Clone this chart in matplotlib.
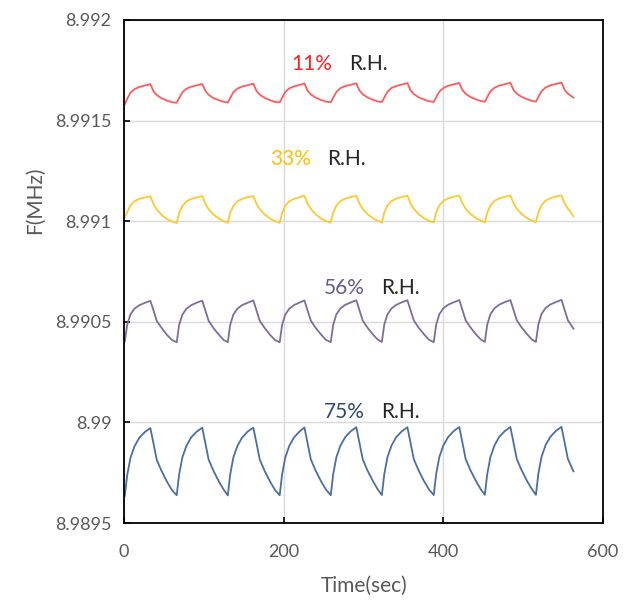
import numpy as np
import matplotlib
matplotlib.use('Agg')
import matplotlib.pyplot as plt

plt.rcParams['font.family'] = ['Lato', 'DejaVu Sans']

# sample times (sec): trough ... peak ... decay for each cycle
time_s = [1, 4, 8, 13, 19, 26, 33, 37, 41, 47, 54, 60,
          66, 69, 73, 78, 84, 91, 98, 102, 106, 112, 119, 125,
          130, 133, 137, 142, 148, 155, 162, 166, 170, 176, 183, 189,
          195, 198, 202, 207, 213, 220, 226, 230, 234, 240, 247, 253,
          259, 262, 266, 271, 277, 284, 291, 295, 299, 305, 312, 318,
          323, 326, 330, 335, 341, 348, 355, 359, 363, 369, 376, 382,
          388, 391, 395, 400, 406, 413, 420, 424, 428, 434, 441, 447,
          452, 455, 459, 464, 470, 477, 484, 488, 492, 498, 505, 511,
          516, 519, 523, 528, 534, 541, 548, 552, 556, 563]

# frequency, in Hz above 8.989 MHz
rh11_hz = [2582, 2608, 2638, 2656, 2667, 2674, 2681, 2645, 2627, 2611, 2599, 2591,
           2589, 2611, 2640, 2658, 2668, 2675, 2682, 2647, 2628, 2612, 2601, 2593,
           2590, 2612, 2641, 2659, 2669, 2676, 2683, 2647, 2629, 2613, 2601, 2593,
           2590, 2613, 2642, 2660, 2670, 2677, 2684, 2648, 2630, 2614, 2602, 2594,
           2591, 2613, 2642, 2661, 2671, 2678, 2685, 2649, 2631, 2615, 2603, 2595,
           2592, 2614, 2643, 2662, 2672, 2679, 2686, 2650, 2632, 2616, 2604, 2596,
           2593, 2615, 2644, 2662, 2673, 2680, 2687, 2651, 2633, 2617, 2605, 2597,
           2594, 2616, 2645, 2663, 2674, 2681, 2688, 2652, 2634, 2618, 2606, 2598,
           2594, 2617, 2646, 2664, 2675, 2682, 2689, 2652, 2634, 2614]

rh33_hz = [2020, 2045, 2078, 2099, 2111, 2118, 2124, 2084, 2058, 2031, 2010, 1999,
           1991, 2040, 2075, 2098, 2110, 2118, 2125, 2085, 2060, 2033, 2012, 2000,
           1992, 2041, 2076, 2099, 2111, 2119, 2125, 2086, 2060, 2034, 2013, 2001,
           1992, 2041, 2076, 2099, 2111, 2119, 2126, 2086, 2061, 2034, 2013, 2001,
           1993, 2042, 2077, 2100, 2112, 2120, 2126, 2087, 2061, 2035, 2014, 2002,
           1993, 2042, 2077, 2100, 2112, 2120, 2127, 2087, 2062, 2035, 2014, 2002,
           1994, 2043, 2078, 2101, 2113, 2121, 2127, 2088, 2062, 2036, 2015, 2003,
           1994, 2043, 2078, 2101, 2113, 2121, 2128, 2088, 2063, 2036, 2015, 2003,
           1995, 2044, 2079, 2102, 2114, 2122, 2128, 2089, 2063, 2024]

rh56_hz = [1403, 1485, 1537, 1565, 1582, 1594, 1604, 1556, 1504, 1470, 1434, 1410,
           1398, 1484, 1535, 1564, 1582, 1595, 1605, 1555, 1505, 1469, 1435, 1409,
           1399, 1485, 1536, 1565, 1583, 1595, 1606, 1556, 1505, 1470, 1435, 1410,
           1398, 1484, 1536, 1565, 1583, 1596, 1606, 1556, 1506, 1470, 1436, 1410,
           1399, 1485, 1537, 1566, 1584, 1596, 1607, 1557, 1506, 1471, 1436, 1411,
           1400, 1486, 1537, 1566, 1584, 1597, 1607, 1557, 1507, 1471, 1437, 1411,
           1399, 1485, 1538, 1567, 1585, 1597, 1608, 1558, 1507, 1472, 1437, 1412,
           1400, 1486, 1538, 1567, 1585, 1598, 1608, 1558, 1508, 1472, 1438, 1412,
           1400, 1486, 1539, 1568, 1586, 1598, 1609, 1559, 1508, 1466]

rh75_hz = [636, 738, 823, 880, 923, 952, 972, 894, 814, 759, 704, 664,
           638, 740, 825, 882, 925, 954, 974, 895, 815, 760, 705, 665,
           637, 741, 826, 883, 925, 955, 974, 896, 816, 760, 706, 665,
           638, 741, 826, 883, 926, 955, 975, 896, 816, 761, 706, 666,
           638, 742, 827, 884, 926, 956, 976, 897, 817, 761, 707, 666,
           639, 742, 827, 884, 927, 956, 976, 897, 817, 762, 707, 667,
           639, 743, 828, 885, 927, 957, 977, 898, 818, 762, 708, 667,
           640, 743, 828, 885, 928, 957, 977, 898, 818, 763, 708, 668,
           640, 744, 829, 886, 928, 958, 978, 899, 819, 757]

base_mhz = 8.989
y_ticks = [8.9895, 8.99, 8.9905, 8.991, 8.9915, 8.992]
y_labels = ['8.9895', '8.99', '8.9905', '8.991', '8.9915', '8.992']
x_ticks = [0, 200, 400, 600]

# data, colour, label, label colour, label y (MHz), label x (sec)
series = [
    (rh11_hz, '#FF5B5B', '11%', '#FF2020', 8.99178, 210),
    (rh33_hz, '#FFC82E', '33%', '#FFC000', 8.99131, 183),
    (rh56_hz, '#7E6C9C', '56%', '#6A5A8C', 8.99067, 250),
    (rh75_hz, '#4A6FA0', '75%', '#2E4A72', 8.99005, 250),
]

fig = plt.figure(figsize=(6.27, 6.05), dpi=100)
ax = fig.add_axes([0.1978, 0.1355, 0.7639, 0.8315])

t = np.array(time_s)
for hz, col, pct, tcol, ty, tx in series:
    f = base_mhz + np.array(hz) * 1e-6
    ax.plot(t, f, color=col, lw=1.3)
    ax.text(tx, ty, pct, color=tcol, fontsize=15, ha='left', va='center')
    ax.text(tx + 72, ty, 'R.H.', color='#262626', fontsize=15, ha='left', va='center')

ax.set_xlim(0, 600)
ax.set_ylim(8.9895, 8.992)
ax.set_xticks(x_ticks)
ax.set_yticks(y_ticks)
ax.set_yticklabels(y_labels)
ax.grid(True, color='#D9D9D9', lw=1)
ax.set_axisbelow(True)
for s in ax.spines.values():
    s.set_color('black')
    s.set_linewidth(1.3)
ax.tick_params(direction='in', length=4, width=1.2, colors='black',
               labelcolor='#595959', labelsize=13)
ax.tick_params(axis='y', pad=9)
ax.tick_params(axis='x', pad=15)
ax.set_xlabel('Time(sec)', fontsize=15, color='#595959')
ax.set_ylabel('F(MHz)', fontsize=15, color='#595959')
ax.xaxis.set_label_coords(0.501, -0.105)
ax.yaxis.set_label_coords(-0.165, 0.642)

fig.savefig('out.png', dpi=100)
